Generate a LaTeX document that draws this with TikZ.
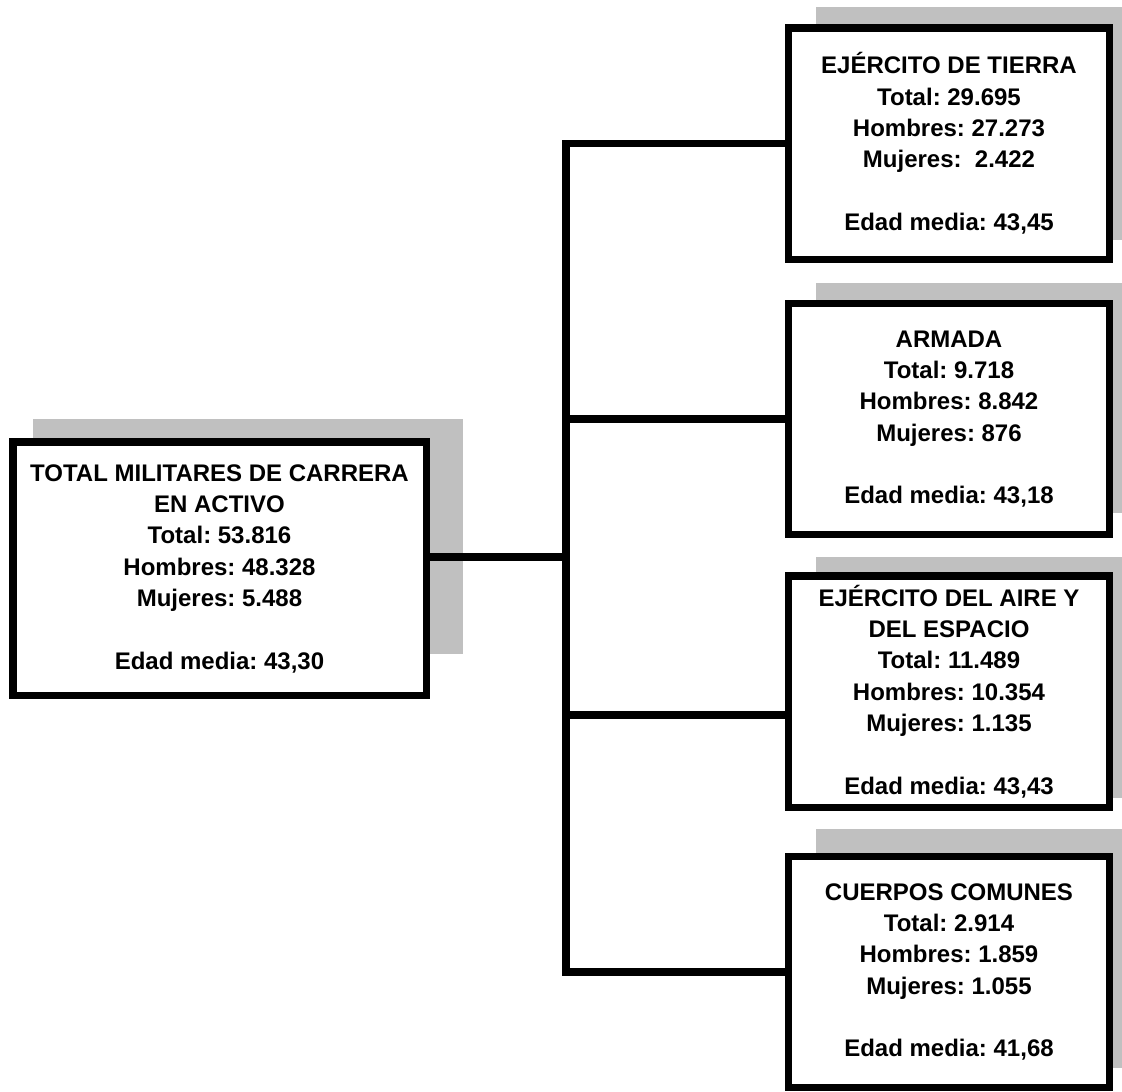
\documentclass[tikz,border=0pt]{standalone}
\usepackage{fontspec}
\setmainfont{Liberation Sans}
\usepackage{tikz}
\usetikzlibrary{backgrounds}
\definecolor{gris}{RGB}{192,192,192}
\frenchspacing

\begin{document}
\begin{tikzpicture}[x=0.75pt,y=-0.75pt]
\tikzstyle{caja}=[draw=black,fill=white,line width=5.6pt,align=center,inner sep=0pt,font=\fontsize{18}{23.5}\selectfont\bfseries\frenchspacing]
\tikzstyle{raiz}=[caja,minimum width=310.1pt,minimum height=190.1pt]
\tikzstyle{rama}=[caja,minimum width=240.4pt,minimum height=173.6pt]
\tikzstyle{sombra}=[fill=gris]
\tikzstyle{linea}=[line width=5.6pt]
\useasboundingbox (0,0) rectangle (1122,1092);
\node[raiz] (total) at (219.5,568.5) {TOTAL MILITARES DE CARRERA\\EN ACTIVO\\Total: 53.816\\Hombres: 48.328\\Mujeres: 5.488\\[23.5pt]Edad media: 43,30};
\node[rama] (tierra) at (949,143.5) {EJÉRCITO DE TIERRA\\Total: 29.695\\Hombres: 27.273\\Mujeres:\ \ 2.422\\[23.5pt]Edad media: 43,45};
\node[rama] (armada) at (949,419) {ARMADA\\Total: 9.718\\Hombres: 8.842\\Mujeres: 876\\[23.5pt]Edad media: 43,18};
\node[rama] (aire) at (949,691.5) {EJÉRCITO DEL AIRE Y\\DEL ESPACIO\\Total: 11.489\\Hombres: 10.354\\Mujeres: 1.135\\[23.5pt]Edad media: 43,43};
\node[rama] (comunes) at (949,972) {CUERPOS COMUNES\\Total: 2.914\\Hombres: 1.859\\Mujeres: 1.055\\[23.5pt]Edad media: 41,68};
\begin{scope}[on background layer]
\fill[sombra] ([shift={(24,-19)}]total.north west) rectangle ([shift={(33,-45)}]total.south east);
\foreach \n/\a/\b in {tierra/17/23,armada/17/25,aire/15/13,comunes/24/23}
  \fill[sombra] ([shift={(31,-\a)}]\n.north west) rectangle ([shift={(31,-\b)}]\n.south east);
\end{scope}
\coordinate (salida) at ([yshift=8.6pt]total.east);
\coordinate (nudo) at ([xshift=102pt]salida);
\coordinate (ramaaire) at ([yshift=-17.6pt]aire.west);
\draw[linea] (salida) -- (nudo);
\draw[linea] (tierra.west) -| (nudo |- comunes.west) -- (comunes.west);
\draw[linea] (armada.west) -- (armada.west -| nudo);
\draw[linea] (ramaaire) -- (ramaaire -| nudo);
\end{tikzpicture}
\end{document}
